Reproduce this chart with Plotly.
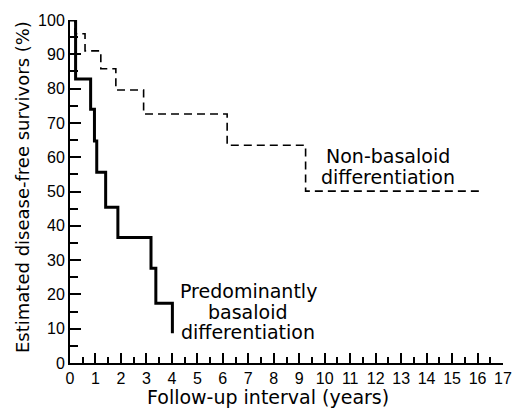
import plotly.graph_objects as go

# Predominantly basaloid differentiation (solid)
basaloid_t = [0, 0.22, 0.81, 0.96, 1.05, 1.40, 1.88, 3.18, 3.37, 4.02]
basaloid_s = [100, 82.8, 74.0, 64.7, 55.6, 45.4, 36.6, 27.6, 17.4, 8.7]

# Non-basaloid differentiation (dashed)
nonbas_t = [0, 0.20, 0.59, 1.21, 1.80, 2.89, 6.17, 9.25, 16.14]
nonbas_s = [100, 96.0, 91.0, 85.8, 79.6, 72.6, 63.5, 50.1, 50.1]

x_ticks = list(range(0, 18))
y_ticks = list(range(0, 101, 10))

nonbas_label = ["Non-basaloid", "differentiation"]
basaloid_label = ["Predominantly", "basaloid", "differentiation"]
x_title = "Follow-up interval (years)"
y_title = "Estimated disease-free survivors (%)"

FONT = "Liberation Sans, Arial, sans-serif"
ANN_FONT = "DejaVu Sans, sans-serif"

fig = go.Figure()
fig.add_trace(go.Scatter(x=nonbas_t, y=nonbas_s, mode="lines", line_shape="hv",
                         line=dict(color="black", width=1.6, dash="8px,5px"),
                         showlegend=False, hoverinfo="skip"))
fig.add_trace(go.Scatter(x=basaloid_t, y=basaloid_s, mode="lines", line_shape="hv",
                         line=dict(color="black", width=3),
                         showlegend=False, hoverinfo="skip"))

for txt, yv in zip(nonbas_label, [60.3, 54.2]):
    fig.add_annotation(x=12.5, y=yv, xref="x", yref="y", text=txt, showarrow=False,
                       xanchor="center", yanchor="middle",
                       font=dict(family=ANN_FONT, size=19, color="black"))
for txt, yv in zip(basaloid_label, [21.0, 14.9, 9.0]):
    fig.add_annotation(x=7.0, y=yv, xref="x", yref="y", text=txt, showarrow=False,
                       xanchor="center", yanchor="middle",
                       font=dict(family=ANN_FONT, size=19, color="black"))

# axis titles
fig.add_annotation(x=(268 - 70) / 433, y=(363 - 397) / 343, xref="paper", yref="paper",
                   text=x_title, showarrow=False, xanchor="center", yanchor="middle",
                   font=dict(family=ANN_FONT, size=19, color="black"))
fig.add_annotation(x=(22 - 70) / 433, y=(363 - 187) / 343, xref="paper", yref="paper",
                   text=y_title, showarrow=False, textangle=-90, xanchor="center", yanchor="middle",
                   font=dict(family=ANN_FONT, size=18, color="black"))

fig.update_layout(
    width=512, height=410,
    margin=dict(l=70, r=9, t=20, b=47, autoexpand=False),
    paper_bgcolor="white", plot_bgcolor="white",
    font=dict(family=FONT, color="black", size=16),
    xaxis=dict(range=[0, 17], tickvals=x_ticks, ticktext=[str(v) for v in x_ticks],
               automargin=False,
               ticks="inside", ticklen=10, tickwidth=1.5, tickcolor="black",
               minor=dict(dtick=0.5, ticks="inside", ticklen=6, tickwidth=1.5, tickcolor="black"),
               showline=True, linecolor="black", linewidth=2, showgrid=False, zeroline=False,
               tickfont=dict(size=16)),
    yaxis=dict(range=[0, 100], tickvals=y_ticks, ticktext=[str(v) for v in y_ticks],
               automargin=False,
               ticks="inside", ticklen=11, tickwidth=1.5, tickcolor="black",
               minor=dict(dtick=5, ticks="inside", ticklen=8, tickwidth=1.5, tickcolor="black"),
               showline=True, linecolor="black", linewidth=2, showgrid=False, zeroline=False,
               tickfont=dict(size=16)),
)

fig.write_html("out.html")
